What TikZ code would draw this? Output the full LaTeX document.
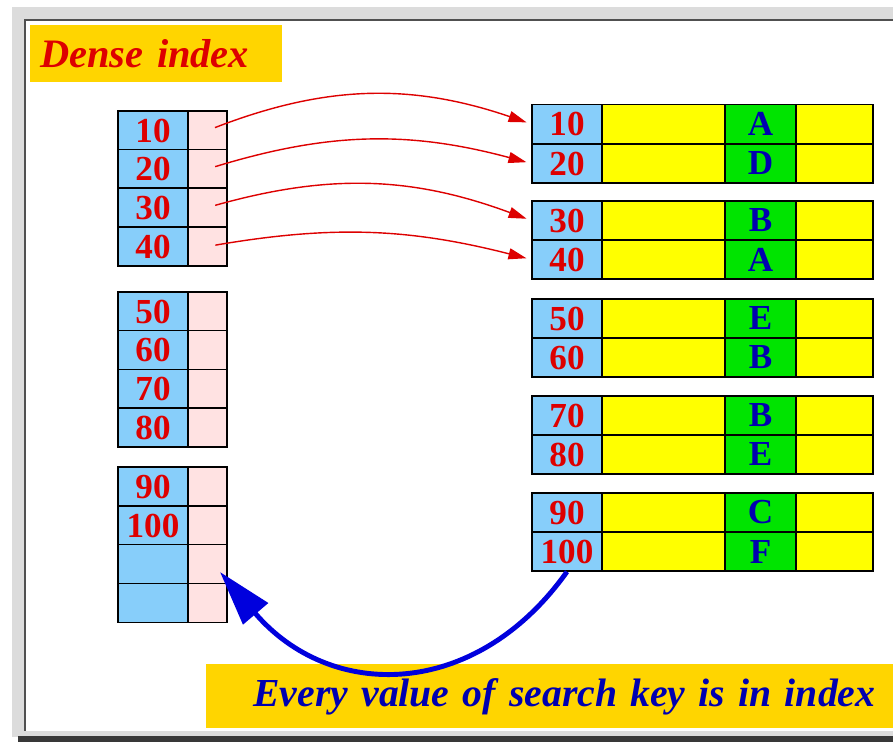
\documentclass[tikz,border=0pt]{standalone}
\usepackage{fontspec}
\setmainfont{Liberation Serif}
\usetikzlibrary{positioning,arrows.meta}

\definecolor{keyblue}{HTML}{87CEFA}
\definecolor{ptrpink}{HTML}{FFE2E2}
\definecolor{recyellow}{HTML}{FFFF00}
\definecolor{recgreen}{HTML}{00E400}
\definecolor{notegold}{HTML}{FFD500}
\definecolor{keyred}{HTML}{DD0000}
\definecolor{letterblue}{HTML}{0000B0}
\definecolor{arcblue}{HTML}{0000DD}
\definecolor{framegray}{HTML}{DCDCDC}
\definecolor{framedark}{HTML}{505050}

\newcommand{\cellfont}{\fontsize{20}{20}\selectfont\bfseries}

\begin{document}
\begin{tikzpicture}[x=0.02cm,y=-0.02cm,
			keycell/.style={draw=black, line width=0.8pt, fill=keyblue, text=keyred, font=\cellfont,
				minimum width=1.4cm, minimum height=0.775cm, inner sep=0pt},
			ptrcell/.style={draw=black, line width=0.8pt, fill=ptrpink, minimum width=0.78cm, minimum height=0.775cm, inner sep=0pt},
			datacell/.style={draw=black, line width=0.8pt, fill=recyellow, minimum height=0.78cm, inner sep=0pt},
			fieldcell/.style={draw=black, line width=0.8pt, fill=recgreen, text=letterblue, font=\cellfont,
				minimum width=1.42cm, minimum height=0.78cm, inner sep=0pt},
			ptrarrow/.style={draw=keyred, line width=0.8pt, -{Triangle[length=0.36cm, width=0.22cm]},
				shorten <=0.16cm, shorten >=0.1cm},
			note/.style={fill=notegold, font=\bfseries\itshape, align=left, anchor=north west},
			]
			\useasboundingbox (0,0) rectangle (893,742);

			%Frame
			\fill[framegray] (12,7) rectangle (893,19);
			\fill[framegray] (12,7) rectangle (24,737);
			\fill[framegray] (24,731) rectangle (893,736);
			\fill[framedark!70!black] (18,736) rectangle (893,742);
			\draw[framedark, line width=1.1pt] (25,731) -- (25,20) -- (893,20);

			%Title
			\node[note, text=keyred, text width=4.64cm, inner xsep=0.2cm, minimum height=1.14cm,
				font=\fontsize{23}{23}\selectfont\bfseries\itshape] (title) at (30,25) {Dense index};

			%Index blocks
			\foreach \k/\t/\y in {1/10/130.5, 2/20/169, 3/30/207.5, 4/40/246.5,
				5/50/311.5, 6/60/350, 7/70/389, 8/80/427.5,
				9/90/486.5, 10/100/525.5, 11//564, 12//603} {
				\node[keycell]      (lk\k)      at      (153,\y)        {\t};
				\node[ptrcell]      (lp\k)      at      (207.5,\y)      {};
			}

			%Data file
			\foreach \k/\t/\c/\y in {1/10/A/124, 2/20/D/163.5, 3/30/B/220.5, 4/40/A/259.5,
				5/50/E/318.5, 6/60/B/357.5, 7/70/B/415.5, 8/80/E/454.5,
				9/90/C/512.5, 10/100/F/551.5} {
				\node[keycell, minimum height=0.78cm]      (rk\k)      at      (567,\y)        {\t};
				\node[datacell, minimum width=2.46cm]      (rd\k)      at      (663.5,\y)      {};
				\node[fieldcell]                           (rf\k)      at      (760.5,\y)      {\c};
				\node[datacell, minimum width=1.54cm]      (re\k)      at      (834.5,\y)      {};
			}

			%Lines
			\draw[ptrarrow] (lp1.center) to[bend left=20] (rk1.west);
			\draw[ptrarrow] (lp2.center) to[bend left=16] (rk2.west);
			\draw[ptrarrow] (lp3.center) to[bend left=18] (rk3.west);
			\draw[ptrarrow] (lp4.center) to[bend left=12] (rk4.west);

			%Bottom note
			\node[note, text=letterblue, text width=14cm, inner xsep=0.94cm, minimum height=1.28cm,
				font=\fontsize{22.6}{22.6}\selectfont\bfseries\itshape] (remark) at (206,664)
				{Every value of search key is in index};

			\coordinate (back) at (220,572);
			\draw[arcblue, line width=2.8pt, -{Triangle[length=1.1cm, width=0.64cm]}]
				(rk10.south) .. controls (475,701) and (330,701) .. (back);
		\end{tikzpicture}
\end{document}
